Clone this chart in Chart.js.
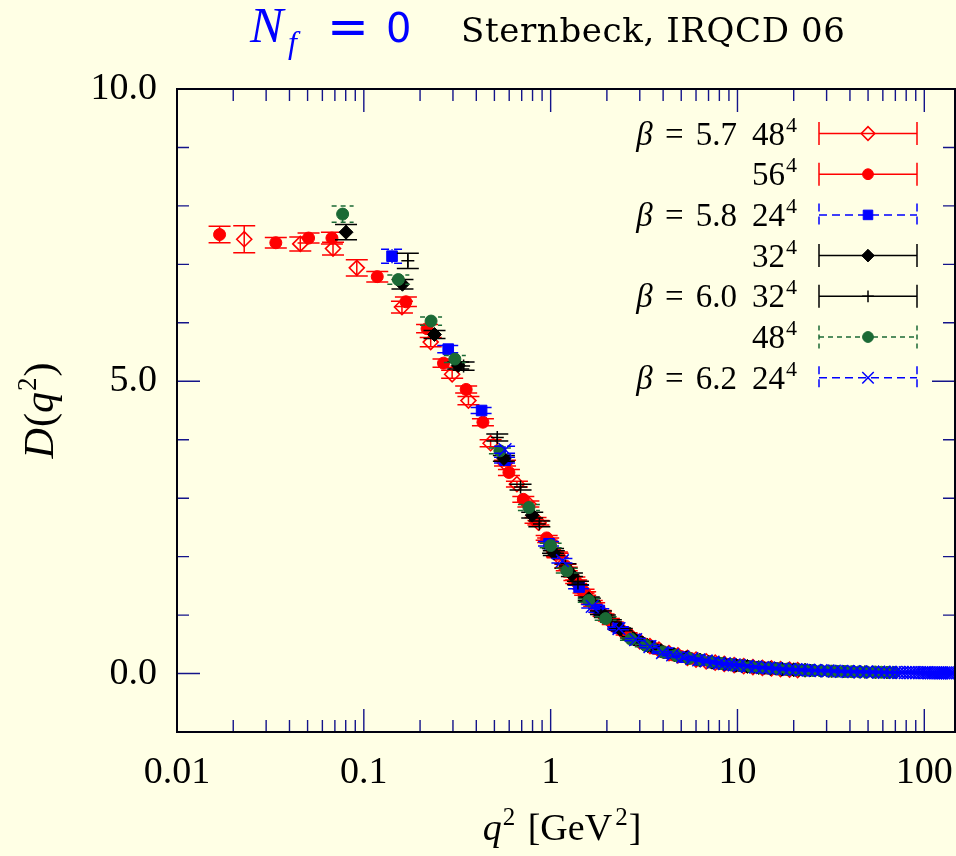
<!DOCTYPE html>
<html>
<head>
<meta charset="utf-8">
<script src="https://cdn.jsdelivr.net/npm/chart.js@4.4.1/dist/chart.umd.min.js"></script>
<style>
html,body{margin:0;padding:0;background:#ffffe5;}
#wrap{width:956px;height:856px;position:relative;}
canvas{display:block;}
</style>
</head>
<body>
<div id="wrap"><canvas id="c" width="956" height="856"></canvas></div>
<script>
// ---------------- data ----------------
// beta = 5.7, 48^4  (red open diamonds)
const q2_b57_L48 = [0.0229,0.0457,0.0684,0.0917,0.160,0.228,0.297,0.363,0.477,0.57,0.66,0.76,0.86,0.97,1.09,1.22,1.37,1.53,1.71,1.92,2.15,2.40,2.70,3.00,3.40,3.80,4.30,4.80,5.40,6.00,6.80,7.60,8.50,9.60,10.8,12.1,13.6,15.2,17.0,19.0,21.0];
const D_b57_L48  = [7.43,7.35,7.27,6.94,6.27,5.67,5.12,4.67,3.94,3.60,3.24,2.90,2.58,2.28,2.02,1.79,1.57,1.37,1.18,1.00,0.86,0.74,0.63,0.55,0.47,0.41,0.35,0.31,0.27,0.24,0.21,0.185,0.165,0.145,0.125,0.11,0.097,0.087,0.077,0.068,0.06];
const err_b57_L48 = [0.23,0.12,0.11,0.14,0.10,0.08,0.07,0.07,0.06,0.05,0.05,0.05,0.04,0.04,0.04,0.03,0.03,0.03,0.03,0.02,0.02,0.02,0.02,0.02,0.015,0.015,0.015,0.01,0.01,0.01,0.01,0.01,0.01,0.01,0.01,0.01,0.01,0.01,0.01,0.01,0.01];

// beta = 5.7, 56^4  (red filled circles)
const q2_b57_L56 = [0.0169,0.0338,0.0506,0.0675,0.118,0.168,0.218,0.267,0.353,0.434,0.598,0.714,0.83,0.952,1.08,1.20,1.34,1.50,1.66,1.85,2.05,2.30,2.55,2.85,3.20,3.60,4.00,4.50,5.00,5.60,6.30,7.10,8.00,9.00,10.1,11.4,12.8,14.4,16.2,18.2,20.4];
const D_b57_L56  = [7.51,7.37,7.45,7.45,6.79,6.36,5.90,5.31,4.86,4.30,3.44,2.98,2.62,2.32,2.04,1.84,1.62,1.41,1.22,1.06,0.92,0.78,0.68,0.58,0.50,0.43,0.37,0.32,0.29,0.26,0.23,0.20,0.175,0.155,0.138,0.12,0.105,0.093,0.082,0.072,0.063];
const err_b57_L56 = [0.14,0.09,0.085,0.10,0.09,0.08,0.07,0.07,0.06,0.06,0.05,0.05,0.05,0.04,0.04,0.03,0.03,0.03,0.03,0.02,0.02,0.02,0.02,0.02,0.015,0.015,0.015,0.01,0.01,0.01,0.01,0.01,0.01,0.01,0.01,0.01,0.01,0.01,0.01,0.01,0.01];

// beta = 5.8, 24^4  (blue squares)
const q2_b58_L24 = [0.1416,0.283,0.427,0.57,0.98,1.42,1.82,2.30,2.85,3.40,4.30,5.20,6.30,7.60,9.00,10.8,12.8,15.2,18.0,21.0,24.0];
const D_b58_L24  = [7.14,5.55,4.50,3.65,2.22,1.48,1.08,0.78,0.58,0.47,0.35,0.28,0.23,0.185,0.155,0.125,0.105,0.087,0.073,0.062,0.055];
const err_b58_L24 = [0.12,0.06,0.05,0.05,0.04,0.03,0.03,0.02,0.02,0.02,0.015,0.01,0.01,0.01,0.01,0.01,0.01,0.01,0.01,0.01,0.01];

// beta = 5.8, 32^4  (black filled diamonds)
const q2_b58_L32 = [0.0803,0.161,0.239,0.320,0.562,0.797,1.04,1.30,1.60,1.95,2.35,2.80,3.30,3.90,4.60,5.40,6.30,7.30,8.50,9.80,11.3,13.0,15.0,17.3,20.0,23.0];
const D_b58_L32  = [7.55,6.66,5.80,5.27,3.68,2.71,2.06,1.69,1.28,0.98,0.76,0.59,0.48,0.39,0.32,0.27,0.23,0.195,0.165,0.142,0.122,0.103,0.088,0.076,0.065,0.057];
const err_b58_L32 = [0.13,0.08,0.07,0.06,0.05,0.05,0.04,0.03,0.03,0.02,0.02,0.02,0.015,0.015,0.01,0.01,0.01,0.01,0.01,0.01,0.01,0.01,0.01,0.01,0.01,0.01];

// beta = 6.0, 32^4  (black plus)
const q2_b60_L32 = [0.172,0.342,0.518,0.69,0.87,1.03,1.20,1.40,1.62,1.86,2.10,2.40,2.75,3.10,3.50,4.00,4.60,5.30,6.10,7.00,8.00,9.20,10.6,12.2,14.0,16.0,18.5,21.3,24.5,28.0,32.0,37.0,42.0,48.0,55.0,63.0,71.0];
const D_b60_L32  = [7.06,5.26,4.04,3.19,2.56,2.10,1.84,1.55,1.26,1.04,0.90,0.75,0.61,0.52,0.45,0.37,0.32,0.28,0.24,0.20,0.175,0.152,0.13,0.112,0.097,0.084,0.072,0.062,0.052,0.046,0.040,0.035,0.030,0.026,0.023,0.020,0.018];
const err_b60_L32 = [0.13,0.07,0.06,0.05,0.05,0.04,0.04,0.03,0.03,0.03,0.02,0.02,0.02,0.02,0.015,0.015,0.01,0.01,0.01,0.01,0.01,0.01,0.01,0.01,0.01,0.01,0.01,0.01,0.01,0.01,0.01,0.01,0.01,0.01,0.01,0.01,0.01];

// beta = 6.0, 48^4  (green circles)
const q2_b60_L48 = [0.077,0.153,0.229,0.307,0.535,0.765,1.00,1.22,1.60,1.97,2.69,3.23,4.00,4.70,5.50,6.30,7.20,8.20,9.30,10.5,11.8,13.2,14.8,16.5,18.5,20.7,23.0,25.5,28.0,31.0,34.0,37.5,41.0,45.0,49.0,54.0,59.0,64.0,69.0];
const D_b60_L48  = [7.86,6.74,6.03,5.38,3.81,2.84,2.19,1.76,1.25,0.94,0.59,0.48,0.37,0.31,0.26,0.23,0.20,0.172,0.15,0.132,0.116,0.103,0.092,0.082,0.073,0.065,0.058,0.052,0.047,0.042,0.038,0.035,0.032,0.029,0.026,0.024,0.022,0.020,0.018];
const err_b60_L48 = [0.14,0.08,0.07,0.06,0.05,0.05,0.04,0.04,0.03,0.03,0.02,0.02,0.015,0.015,0.01,0.01,0.01,0.01,0.01,0.01,0.01,0.01,0.01,0.01,0.01,0.01,0.01,0.01,0.01,0.01,0.01,0.01,0.01,0.01,0.01,0.01,0.01,0.01,0.01];

// beta = 6.2, 24^4  (blue x)
const q2_b62_L24 = [0.57,1.156,1.67,2.32,2.85,3.40,3.97,4.50,5.10,5.70,6.20,6.80,7.40,8.00,8.50,9.10,9.60,10.2,11.3,12.5,13.6,14.7,16.0,17.5,19.0,20.5,22.0,24.0,26.0,28.0,30.5,33.0,36.0,39.0,42.0,45.5,49.0,53.0,57.0,61.0,65.5,70.0,73,76,79,82,85,88,91,94,97,100,103,106,109,112,115,118,121,124,127,130,133,136,139,142];
const D_b62_L24  = [3.83,1.93,1.15,0.77,0.58,0.46,0.36,0.32,0.285,0.255,0.235,0.215,0.195,0.18,0.168,0.157,0.148,0.14,0.125,0.112,0.103,0.095,0.087,0.079,0.072,0.067,0.062,0.057,0.052,0.049,0.045,0.041,0.038,0.035,0.032,0.030,0.028,0.026,0.024,0.022,0.020,0.019,0.018,0.018,0.017,0.017,0.016,0.016,0.015,0.015,0.014,0.014,0.014,0.013,0.013,0.013,0.012,0.012,0.012,0.011,0.011,0.011,0.011,0.010,0.010,0.010];
const err_b62_L24 = [0.06,0.04,0.03,0.02,0.02,0.02,0.015,0.015,0.01,0.01,0.01,0.01,0.01,0.01,0.01,0.01,0.01,0.01,0.01,0.01,0.01,0.01,0.01,0.01,0.01,0.01,0.01,0.01,0.01,0.01,0.01,0.01,0.01,0.01,0.01,0.01,0.01,0.01,0.01,0.01,0.01,0.01,0.01,0.01,0.01,0.01,0.01,0.01,0.01,0.01,0.01,0.01,0.01,0.01,0.01,0.01,0.01,0.01,0.01,0.01,0.01,0.01,0.01,0.01,0.01,0.01];

// legend texts
const legendBeta = ['5.7','','5.8','','6.0','','6.2'];
const legendVolume = ['48','56','24','32','32','48','24'];

// axis tick labels
const xTickLabels = ['0.01','0.1','1','10','100'];
const yTickLabels = {'0':'0.0','5':'5.0','10':'10.0'};
const xMin = 0.01, xMax = 146, yMin = -1, yMax = 10;

// ---------------- styles ----------------
const BG = '#ffffe5';
const RED = '#ff0000', BLUE = '#0000ff', BLACK = '#000000', GREEN = '#1b6a35';
const TICK = '#14148a';
const SERIF = "'Liberation Serif', 'Times New Roman', serif";

function pts(q, d, e) {
  const n = Math.min(q.length, d.length);
  const out = [];
  for (let i = 0; i < n; i++) out.push({x: q[i], y: d[i], e: (e[i] !== undefined ? e[i] : 0.01)});
  return out;
}

const seriesDefs = [
  {q: q2_b57_L48, d: D_b57_L48, e: err_b57_L48, style: 'rectRot', r: 7.5, fill: 'rgba(0,0,0,0)', col: RED, bw: 1.6, dash: []},
  {q: q2_b57_L56, d: D_b57_L56, e: err_b57_L56, style: 'circle', r: 6, fill: RED, col: RED, bw: 1, dash: []},
  {q: q2_b58_L24, d: D_b58_L24, e: err_b58_L24, style: 'rect', r: 7.5, fill: BLUE, col: BLUE, bw: 1, dash: [8,5]},
  {q: q2_b58_L32, d: D_b58_L32, e: err_b58_L32, style: 'rectRot', r: 7, fill: BLACK, col: BLACK, bw: 1, dash: []},
  {q: q2_b60_L32, d: D_b60_L32, e: err_b60_L32, style: 'cross', r: 6.5, fill: BLACK, col: BLACK, bw: 1.5, dash: []},
  {q: q2_b60_L48, d: D_b60_L48, e: err_b60_L48, style: 'circle', r: 6, fill: GREEN, col: GREEN, bw: 1, dash: [5,4]},
  {q: q2_b62_L24, d: D_b62_L24, e: err_b62_L24, style: 'crossRot', r: 9, fill: BLUE, col: BLUE, bw: 1.5, dash: [8,5]}
];

const datasets = seriesDefs.map((s, i) => ({
  label: 'beta ' + (legendBeta[i] || '') + ' ' + legendVolume[i] + '^4',
  data: pts(s.q, s.d, s.e),
  pointStyle: s.style,
  pointRadius: s.r,
  pointHoverRadius: s.r,
  pointBackgroundColor: s.fill,
  pointBorderColor: s.col,
  pointBorderWidth: s.bw,
  showLine: false,
  errColor: s.col,
  errDash: s.dash,
  order: seriesDefs.length - i
}));

// ---------------- plugins ----------------
const bgPlugin = {
  id: 'bg',
  beforeDraw(chart) {
    const c = chart.ctx;
    c.save(); c.fillStyle = BG; c.fillRect(0, 0, chart.width, chart.height); c.restore();
  }
};

const errPlugin = {
  id: 'errbars',
  beforeDatasetDraw(chart, args) {
    const ds = chart.data.datasets[args.index];
    const xs = chart.scales.x, ys = chart.scales.y, a = chart.chartArea;
    const c = chart.ctx;
    c.save();
    c.beginPath(); c.rect(a.left, a.top, a.right - a.left, a.bottom - a.top); c.clip();
    c.strokeStyle = ds.errColor; c.lineWidth = 1.5; c.setLineDash(ds.errDash || []);
    ds.data.forEach(p => {
      const x = xs.getPixelForValue(p.x);
      const y1 = ys.getPixelForValue(p.y - p.e), y2 = ys.getPixelForValue(p.y + p.e);
      c.beginPath();
      c.moveTo(x, y1); c.lineTo(x, y2);
      c.moveTo(x - 11, y1); c.lineTo(x + 11, y1);
      c.moveTo(x - 11, y2); c.lineTo(x + 11, y2);
      c.stroke();
    });
    c.restore();
  }
};

const framePlugin = {
  id: 'frame',
  beforeDatasetsDraw(chart) {
    const c = chart.ctx, a = chart.chartArea, xs = chart.scales.x, ys = chart.scales.y;
    c.save(); c.strokeStyle = TICK; c.lineWidth = 1.4; c.beginPath();
    for (let e = -2; e <= 2; e++) {
      for (let m = 1; m <= 9; m++) {
        const v = m * Math.pow(10, e);
        if (v <= xMin * 1.001 || v >= xMax) continue;
        const px = xs.getPixelForValue(v);
        const len = (m === 1) ? 23 : 12;
        c.moveTo(px, a.bottom); c.lineTo(px, a.bottom - len);
        c.moveTo(px, a.top); c.lineTo(px, a.top + len);
      }
    }
    for (let v = yMin + 1; v < yMax; v++) {
      const py = ys.getPixelForValue(v);
      const len = (v % 5 === 0) ? 23 : 12;
      c.moveTo(a.left, py); c.lineTo(a.left + len, py);
      c.moveTo(a.right, py); c.lineTo(a.right - len, py);
    }
    c.stroke(); c.restore();
  },
  afterDatasetsDraw(chart) {
    const c = chart.ctx, a = chart.chartArea;
    c.save(); c.strokeStyle = '#000010'; c.lineWidth = 2;
    c.strokeRect(a.left, a.top, a.right - a.left, a.bottom - a.top);
    c.restore();
  }
};

function drawRuns(c, parts, x, y, align) {
  let w = 0;
  parts.forEach(p => { c.font = p.f; p.w = c.measureText(p.t).width + (p.sp || 0); w += p.w; });
  let cx = align === 'right' ? x - w : (align === 'center' ? x - w / 2 : x);
  c.textAlign = 'left'; c.textBaseline = 'alphabetic';
  parts.forEach(p => { c.font = p.f; c.fillStyle = p.c || '#000'; c.fillText(p.t, cx + (p.sp || 0) / 2, y + (p.dy || 0)); cx += p.w; });
  return w;
}

const textPlugin = {
  id: 'texts',
  afterDraw(chart) {
    const c = chart.ctx;
    c.save();
    c.textAlign = 'left'; c.textBaseline = 'alphabetic';
    // Title: N_f = 0
    c.fillStyle = BLUE;
    c.font = 'italic 50px ' + SERIF; c.fillText('N', 250, 42);
    c.font = 'italic 32px ' + SERIF; c.fillText('f', 288, 53);
    c.font = "50px 'DejaVu Sans', sans-serif"; c.fillText('=', 327, 44);
    c.font = "40px 'DejaVu Sans', sans-serif"; c.fillText('0', 386, 42);
    // Title: author
    c.font = "34px 'DejaVu Serif', serif";
    const txt = 'Sternbeck, IRQCD 06';
    const natural = c.measureText(txt).width;
    try { c.letterSpacing = Math.max(0, (384 - natural) / (txt.length - 1)).toFixed(2) + 'px'; } catch (e) {}
    c.fillStyle = '#000';
    c.fillText(txt, 461, 42);
    try { c.letterSpacing = '0px'; } catch (e) {}

    // x axis title
    drawRuns(c, [
      {t: 'q', f: 'italic 38px ' + SERIF},
      {t: '2', f: '25px ' + SERIF, dy: -15, sp: 2},
      {t: ' [GeV', f: '38px ' + SERIF, sp: 4},
      {t: '2', f: '25px ' + SERIF, dy: -15, sp: 2},
      {t: ']', f: '38px ' + SERIF}
    ], 562, 840, 'center');

    // y axis title (rotated)
    c.save();
    c.translate(53, 411); c.rotate(-Math.PI / 2);
    drawRuns(c, [
      {t: 'D', f: 'italic 42px ' + SERIF, sp: 2},
      {t: '(', f: '42px ' + SERIF},
      {t: 'q', f: 'italic 42px ' + SERIF},
      {t: '2', f: '27px ' + SERIF, dy: -17, sp: 2},
      {t: ')', f: '42px ' + SERIF}
    ], 0, 0, 'center');
    c.restore();

    // Legend
    const rowY0 = 133.5, rowDY = 40.7;
    seriesDefs.forEach((s, i) => {
      const yy = rowY0 + i * rowDY;
      const base = yy + 11;
      c.font = '22px ' + SERIF; const ws = c.measureText('4').width;
      c.font = '33px ' + SERIF; const wv = c.measureText(legendVolume[i]).width;
      c.fillStyle = '#000'; c.textAlign = 'left'; c.textBaseline = 'alphabetic';
      c.fillText(legendVolume[i], 797 - ws - 1 - wv, base);
      c.font = '22px ' + SERIF; c.fillText('4', 797 - ws, base - 13);
      if (legendBeta[i]) {
        drawRuns(c, [
          {t: '\u03B2', f: 'italic 33px ' + SERIF},
          {t: ' = ', f: '33px ' + SERIF, sp: 8},
          {t: legendBeta[i], f: '33px ' + SERIF}
        ], 737, base, 'right');
      }
      // sample
      c.save();
      c.strokeStyle = s.col; c.lineWidth = 1.5; c.setLineDash(s.dash);
      c.beginPath();
      c.moveTo(819, yy); c.lineTo(917, yy);
      c.moveTo(819, yy - 11.5); c.lineTo(819, yy + 11.5);
      c.moveTo(917, yy - 11.5); c.lineTo(917, yy + 11.5);
      c.stroke();
      c.setLineDash([]);
      c.fillStyle = s.fill; c.strokeStyle = s.col; c.lineWidth = s.bw;
      Chart.helpers.drawPoint(c, {pointStyle: s.style, radius: s.r * 0.9, borderWidth: s.bw, rotation: 0}, 868, yy);
      c.restore();
    });
    c.restore();
  }
};

// ---------------- chart ----------------
new Chart(document.getElementById('c'), {
  type: 'scatter',
  data: {datasets: datasets},
  plugins: [bgPlugin, errPlugin, framePlugin, textPlugin],
  options: {
    responsive: false,
    animation: false,
    devicePixelRatio: 1,
    layout: {autoPadding: false, padding: {top: 89, right: 1, left: 0, bottom: 0}},
    plugins: {legend: {display: false}, tooltip: {enabled: false}, title: {display: false}},
    scales: {
      x: {
        type: 'logarithmic', position: 'bottom', min: xMin, max: xMax,
        grid: {display: false, drawTicks: false}, border: {display: false},
        ticks: {
          autoSkip: false, maxRotation: 0, minRotation: 0, padding: 18, color: '#000',
          font: {family: SERIF, size: 38},
          callback: (v) => {
            const l = Math.log10(v);
            if (Math.abs(l - Math.round(l)) < 1e-6) return xTickLabels[Math.round(l) + 2] || '';
            return '';
          }
        },
        afterFit: (s) => { s.height = 124; s.paddingLeft = 0; s.paddingRight = 0; }
      },
      y: {
        type: 'linear', position: 'left', min: yMin, max: yMax,
        grid: {display: false, drawTicks: false}, border: {display: false},
        ticks: {
          stepSize: 1, autoSkip: false, padding: 20, color: '#000',
          font: {family: SERIF, size: 38},
          callback: (v) => (yTickLabels[String(v)] !== undefined ? yTickLabels[String(v)] : '')
        },
        afterFit: (s) => { s.width = 177; s.paddingTop = 0; s.paddingBottom = 0; }
      }
    }
  }
});
</script>
</body>
</html>
